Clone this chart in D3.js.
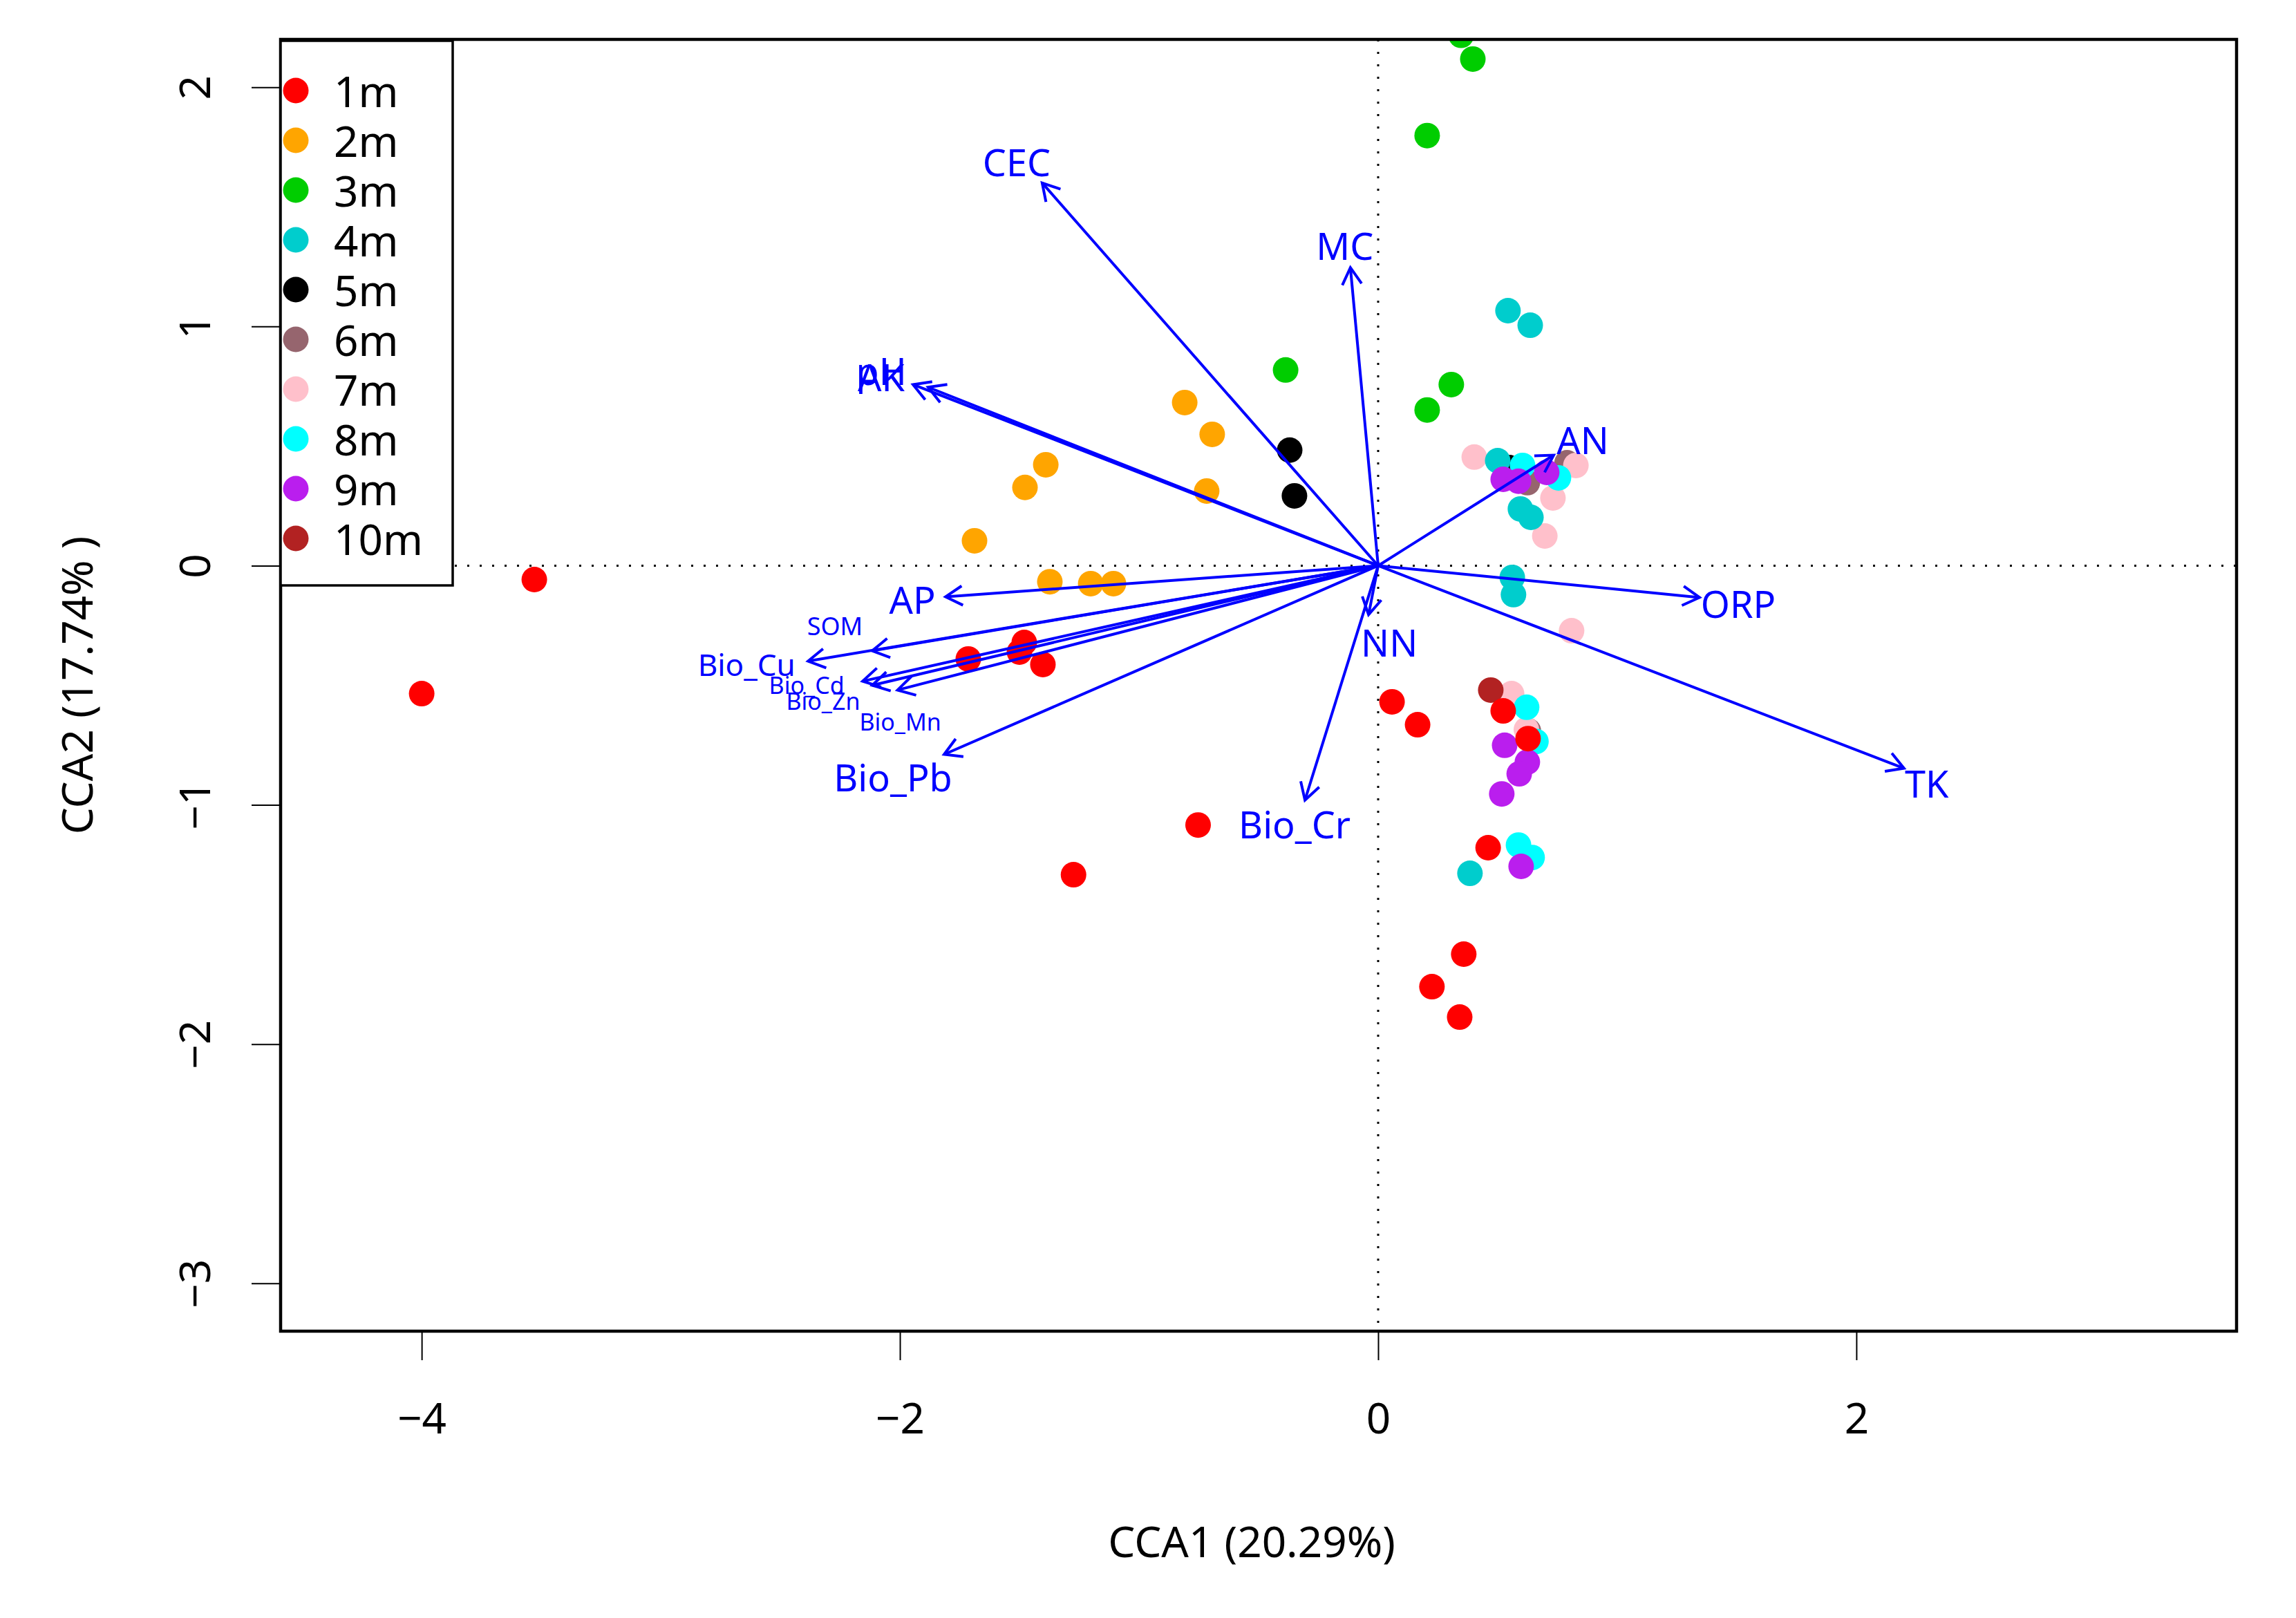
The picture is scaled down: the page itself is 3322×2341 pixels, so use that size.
<!DOCTYPE html>
<html><head><meta charset="utf-8">
<script src="https://cdn.jsdelivr.net/npm/d3@7"></script>
<style>
body{margin:0;background:#fff}
text{font-family:"Noto Sans","Open Sans",sans-serif}
</style>
</head><body>
<svg id="chart" width="3322" height="2341"></svg>
<script>
// ---------------- DATA ----------------
const groups = ["1m","2m","3m","4m","5m","6m","7m","8m","9m","10m"];

// site scores [CCA1, CCA2] per group
const s1m = [[-3.529,-0.058],[-4.0,-0.535],[-1.714,-0.390],[-1.480,-0.321],[-1.50,-0.361],[-1.402,-0.413],
             [-0.753,-1.084],[-1.274,-1.292],[0.058,-0.569],[0.165,-0.665],[0.523,-0.607],[0.627,-0.723],
             [0.46,-1.179],[0.358,-1.624],[0.225,-1.760],[0.341,-1.887]];
const s2m = [[-0.809,0.682],[-0.694,0.549],[-1.390,0.422],[-1.477,0.327],[-0.717,0.312],[-1.688,0.104],
             [-1.373,-0.067],[-1.202,-0.075],[-1.107,-0.075]];
const s3m = [[0.347,2.217],[0.396,2.118],[0.205,1.798],[-0.387,0.818],[0.306,0.757],[0.205,0.651]];
const s4m = [[0.543,1.066],[0.636,1.005],[0.5,0.439],[0.595,0.237],[0.639,0.202],[0.561,-0.049],
             [0.566,-0.121],[0.384,-1.286]];
const s5m = [[-0.370,0.483],[-0.350,0.292],[0.548,0.41]];
const s6m = [[0.624,0.347],[0.79,0.43],[0.628,-0.69]];
const s7m = [[0.402,0.454],[0.827,0.419],[0.731,0.283],[0.697,0.124],[0.809,-0.272],[0.558,-0.535],[0.62,-0.685]];
const s8m = [[0.604,0.419],[0.754,0.367],[0.621,-0.592],[0.66,-0.735],[0.587,-1.168],[0.644,-1.22]];
const s9m = [[0.523,0.361],[0.587,0.353],[0.705,0.390],[0.529,-0.751],[0.624,-0.821],[0.590,-0.870],
             [0.517,-0.954],[0.598,-1.257]];
const s10m = [[0.471,-0.520]];

// environmental biplot arrows
const envNames = ["CEC","MC","pH","AK","AN","ORP","TK","NN","Bio_Cr","AP","SOM","Bio_Cu","Bio_Cd","Bio_Zn","Bio_Mn","Bio_Pb"];
const envCCA1  = [-1.405,-0.116,-1.945,-1.882,0.734,1.344,2.199,-0.04,-0.306,-1.809,-2.116,-2.384,-2.156,-2.116,-2.01,-1.815];
const envCCA2  = [1.600,1.246,0.757,0.746,0.462,-0.133,-0.847,-0.205,-0.98,-0.130,-0.356,-0.399,-0.483,-0.50,-0.52,-0.789];

const xTicks = [-4,-2,0,2];
const yTicks = [-3,-2,-1,0,1,2];
const xTitle = "CCA1 (20.29%)";
const yTitle = "CCA2 (17.74% )";

// ---------------- STYLE / LAYOUT ----------------
const seriesData = [s1m,s2m,s3m,s4m,s5m,s6m,s7m,s8m,s9m,s10m];
const colors = ["#FF0000","#FFA500","#00CD00","#00CDCD","#000000","#96656E","#FFC0CB","#00FFFF","#BA1EEE","#B22222"];
const drawOrder = ["5m","6m","7m","4m","8m","9m","3m","2m","10m","1m"];
// label offsets (px) from arrow tip and font sizes
const labelLayout = {
  CEC:[-37,-31,54], MC:[-8,-32,54], pH:[-46,-20,54], AK:[-68,-15,54], AN:[42,-23,54],
  ORP:[56,9,54], TK:[33,21,54], NN:[30,40,54], Bio_Cr:[-15,34,54], AP:[-48,4,54],
  SOM:[-54,-36,36], Bio_Cu:[-89,4,44], Bio_Cd:[-81,5,34], Bio_Zn:[-71,22,34],
  Bio_Mn:[4,46,34], Bio_Pb:[-74,32,54]
};

const L = 406, R = 3236, T = 57, B = 1926;
const svg = d3.select("#chart");
svg.append("rect").attr("width",3322).attr("height",2341).attr("fill","#fff");

const x = d3.scaleLinear().domain([-4.59, 3.59]).range([L, R]);
const y = d3.scaleLinear().domain([-3.2, 2.2]).range([B, T]);

svg.append("clipPath").attr("id","clip").append("rect")
  .attr("x",L).attr("y",T).attr("width",R-L).attr("height",B-T);

const plot = svg.append("g").attr("clip-path","url(#clip)");

// dotted zero lines
plot.append("line").attr("x1",L).attr("x2",R).attr("y1",y(0)).attr("y2",y(0))
  .attr("stroke","#000").attr("stroke-width",3).attr("stroke-dasharray","3,15");
plot.append("line").attr("x1",x(0)).attr("x2",x(0)).attr("y1",T).attr("y2",B)
  .attr("stroke","#000").attr("stroke-width",3).attr("stroke-dasharray","3,15");

// points
drawOrder.forEach(gname => {
  const gi = groups.indexOf(gname);
  plot.append("g").selectAll("circle").data(seriesData[gi]).join("circle")
    .attr("cx", d => x(d[0])).attr("cy", d => y(d[1])).attr("r", 18.5)
    .attr("fill", colors[gi]);
});

// arrows
const arrowG = plot.append("g");
envNames.forEach((name, i) => {
  const x0 = x(0), y0 = y(0), x1 = x(envCCA1[i]), y1 = y(envCCA2[i]);
  arrowG.append("line").attr("x1",x0).attr("y1",y0).attr("x2",x1).attr("y2",y1)
    .attr("stroke","#0000FF").attr("stroke-width",4);
  const ang = Math.atan2(y0 - y1, x0 - x1);
  const hl = 28, ha = Math.PI/6;
  const p = `M${x1+hl*Math.cos(ang+ha)},${y1+hl*Math.sin(ang+ha)}L${x1},${y1}L${x1+hl*Math.cos(ang-ha)},${y1+hl*Math.sin(ang-ha)}`;
  arrowG.append("path").attr("d",p).attr("fill","none").attr("stroke","#0000FF").attr("stroke-width",4);
  const lay = labelLayout[name];
  arrowG.append("text").attr("x", x1 + lay[0]).attr("y", y1 + lay[1])
    .attr("text-anchor","middle").attr("dominant-baseline","central")
    .attr("font-size", lay[2]).attr("fill","#0000FF").text(name);
});

// box
svg.append("rect").attr("x",L).attr("y",T).attr("width",R-L).attr("height",B-T)
  .attr("fill","none").attr("stroke","#000").attr("stroke-width",4.5);

// axes
const xAxis = d3.axisBottom(x).tickValues(xTicks).tickSize(42).tickPadding(62)
  .tickFormat(d => d < 0 ? "\u2212" + Math.abs(d) : String(d));
const gx = svg.append("g").attr("transform",`translate(0,${B})`).call(xAxis);
gx.select(".domain").remove();
gx.selectAll(".tick line").attr("stroke","#000").attr("stroke-width",2);
gx.selectAll(".tick text").attr("font-size",62).attr("fill","#000")
  .attr("font-family","'Noto Sans',sans-serif");

const yAxis = d3.axisLeft(y).tickValues(yTicks).tickSize(42).tickPadding(0)
  .tickFormat(d => d < 0 ? "\u2212" + Math.abs(d) : String(d));
const gy = svg.append("g").attr("transform",`translate(${L},0)`).call(yAxis);
gy.select(".domain").remove();
gy.selectAll(".tick line").attr("stroke","#000").attr("stroke-width",2);
gy.selectAll(".tick text").attr("font-size",62).attr("fill","#000")
  .attr("font-family","'Noto Sans',sans-serif")
  .attr("x",null).attr("dy",null)
  .attr("text-anchor","middle").attr("dominant-baseline","central")
  .attr("transform","translate(-126,0) rotate(-90)");

// titles
svg.append("text").attr("x",(L+R)/2 - 10).attr("y",2229)
  .attr("text-anchor","middle").attr("dominant-baseline","central")
  .attr("font-size",62).attr("fill","#000").text(xTitle);
svg.append("text").attr("transform",`translate(110,${(T+B)/2}) rotate(-90)`)
  .attr("text-anchor","middle").attr("dominant-baseline","central")
  .attr("font-size",62).attr("fill","#000").text(yTitle);

// legend
const lg = svg.append("g");
lg.append("rect").attr("x",L).attr("y",T+2).attr("width",249).attr("height",788)
  .attr("fill","#fff").attr("stroke","#000").attr("stroke-width",3.5);
groups.forEach((gname, i) => {
  const cy = 131 + i*72;
  lg.append("circle").attr("cx",428).attr("cy",cy).attr("r",18.5).attr("fill",colors[i]);
  lg.append("text").attr("x",483).attr("y",cy).attr("dominant-baseline","central")
    .attr("font-size",62).attr("fill","#000").text(gname);
});
</script>
</body></html>
